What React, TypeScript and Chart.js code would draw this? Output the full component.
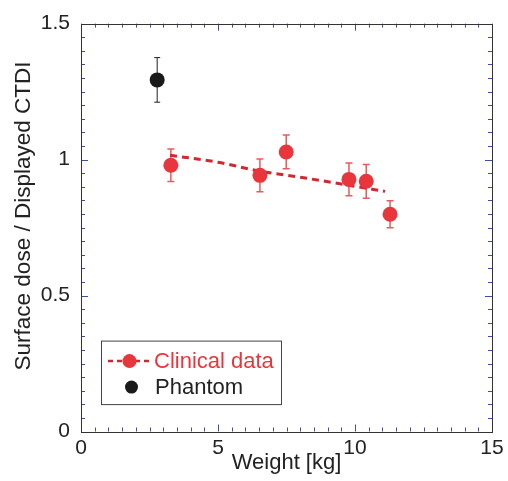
import React, { useEffect, useRef } from "react";
import { Chart, registerables } from "chart.js";

Chart.register(...registerables);

const clinicalWeight = [3.28, 6.53, 7.49, 9.78, 10.41, 11.28];
const clinicalRatio = [0.979, 0.942, 1.028, 0.927, 0.920, 0.799];
const clinicalErr = [0.06, 0.06, 0.062, 0.06, 0.062, 0.05];

const phantomWeight = [2.78];
const phantomRatio = [1.293];
const phantomErr = [0.082];

const fitWeight = [3.25, 5.0, 6.5, 8.0, 9.8, 11.1];
const fitRatio = [1.016, 0.99, 0.958, 0.935, 0.905, 0.883];

const xTicks = [0, 5, 10, 15];
const yTicks = [0, 0.5, 1, 1.5];

const FONT = "'Liberation Sans', Arial, sans-serif";
const RED = "#e8363c";
const DARK_RED = "#d3282f";
const TICK_BLUE = "#3b4fa3";
const TEXT = "#222222";

const pts = (xs: number[], ys: number[]) => xs.map((x, i) => ({ x, y: ys[i] }));

const errorBarPlugin = {
  id: "errorBars",
  beforeDatasetsDraw(chart: any) {
    const { ctx, scales } = chart;
    const xs = scales.x, ys = scales.y;
    const draw = (wx: number[], wy: number[], we: number[], color: string, cap: number, lw: number) => {
      ctx.save();
      ctx.strokeStyle = color;
      ctx.lineWidth = lw;
      wx.forEach((w, i) => {
        const px = xs.getPixelForValue(w);
        const top = ys.getPixelForValue(wy[i] + we[i]);
        const bot = ys.getPixelForValue(wy[i] - we[i]);
        ctx.beginPath();
        ctx.moveTo(px, top);
        ctx.lineTo(px, bot);
        ctx.moveTo(px - cap, top);
        ctx.lineTo(px + cap, top);
        ctx.moveTo(px - cap, bot);
        ctx.lineTo(px + cap, bot);
        ctx.stroke();
      });
      ctx.restore();
    };
    draw(clinicalWeight, clinicalRatio, clinicalErr, "rgba(232,60,66,0.85)", 3.5, 1.5);
    draw(phantomWeight, phantomRatio, phantomErr, "#222", 3, 1);
  },
};

const frameTicksPlugin = {
  id: "frameTicks",
  afterDraw(chart: any) {
    const { ctx, chartArea, scales } = chart;
    const { left, right, top, bottom } = chartArea;
    ctx.save();
    ctx.strokeStyle = TICK_BLUE;
    ctx.lineWidth = 1;
    ctx.beginPath();
    for (let i = 0; i <= 30; i++) {
      const v = i * 0.5;
      const px = Math.round(scales.x.getPixelForValue(v)) + 0.5;
      const len = i % 10 === 0 ? 7 : 4;
      ctx.moveTo(px, bottom);
      ctx.lineTo(px, bottom - len);
      ctx.moveTo(px, top);
      ctx.lineTo(px, top + len);
    }
    for (let i = 0; i <= 30; i++) {
      const v = i * 0.05;
      const py = Math.round(scales.y.getPixelForValue(v)) + 0.5;
      const len = i % 10 === 0 ? 7 : 4;
      ctx.moveTo(left, py);
      ctx.lineTo(left + len, py);
      ctx.moveTo(right, py);
      ctx.lineTo(right - len, py);
    }
    ctx.stroke();
    ctx.strokeStyle = "#333";
    ctx.lineWidth = 1;
    ctx.strokeRect(Math.round(left) + 0.5, Math.round(top) + 0.5, Math.round(right - left), Math.round(bottom - top));

    // y axis title
    ctx.fillStyle = TEXT;
    ctx.font = `22.5px ${FONT}`;
    ctx.textAlign = "center";
    ctx.textBaseline = "middle";
    ctx.translate(24, 216);
    ctx.rotate(-Math.PI / 2);
    ctx.fillText("Surface dose / Displayed CTDI", 0, 0);
    ctx.restore();

    // legend
    ctx.save();
    const lx = left + 20.5;
    const ly = top + 317.5;
    ctx.strokeStyle = "#444";
    ctx.lineWidth = 1;
    ctx.strokeRect(lx, ly, 180, 63.5);
    const r1 = ly + 20;
    ctx.strokeStyle = DARK_RED;
    ctx.lineWidth = 2.5;
    ctx.setLineDash([5, 4]);
    ctx.beginPath();
    ctx.moveTo(lx + 6.5, r1);
    ctx.lineTo(lx + 50, r1);
    ctx.stroke();
    ctx.setLineDash([]);
    ctx.fillStyle = RED;
    ctx.beginPath();
    ctx.arc(lx + 28, r1, 7, 0, Math.PI * 2);
    ctx.fill();
    ctx.font = `22px ${FONT}`;
    ctx.textAlign = "left";
    ctx.textBaseline = "middle";
    ctx.fillText("Clinical data", lx + 52.5, r1 + 1);
    const r2 = ly + 46;
    ctx.fillStyle = "#1a1a1a";
    ctx.beginPath();
    ctx.arc(lx + 30, r2, 6.5, 0, Math.PI * 2);
    ctx.fill();
    ctx.fillStyle = TEXT;
    ctx.fillText("Phantom", lx + 53.5, r2 + 1);
    ctx.restore();
  },
};

export default function App() {
  const ref = useRef<HTMLCanvasElement>(null);
  useEffect(() => {
    if (!ref.current) return;
    const chart = new Chart(ref.current, {
      type: "scatter",
      data: {
        datasets: [
          {
            label: "Clinical data",
            data: pts(clinicalWeight, clinicalRatio),
            backgroundColor: RED,
            borderColor: RED,
            pointRadius: 7.5,
            pointBorderWidth: 0,
            showLine: false,
          },
          {
            label: "Phantom",
            data: pts(phantomWeight, phantomRatio),
            backgroundColor: "#1a1a1a",
            borderColor: "#1a1a1a",
            pointRadius: 7.5,
            pointBorderWidth: 0,
            showLine: false,
          },
          {
            label: "Fit",
            data: pts(fitWeight, fitRatio),
            showLine: true,
            borderColor: DARK_RED,
            borderWidth: 3,
            borderDash: [7, 5],
            pointRadius: 0,
            tension: 0.4,
            cubicInterpolationMode: "monotone",
          } as any,
        ],
      },
      options: {
        animation: false,
        responsive: true,
        maintainAspectRatio: false,
        layout: { padding: { top: 23, right: 16, left: 0, bottom: 0 } },
        plugins: { legend: { display: false }, tooltip: { enabled: false } },
        scales: {
          x: {
            type: "linear",
            min: 0,
            max: 15,
            afterBuildTicks: (s: any) => {
              s.ticks = xTicks.map((v) => ({ value: v }));
            },
            afterFit: (s: any) => {
              s.height = 49.5;
            },
            grid: { display: false, drawTicks: false },
            border: { display: false },
            ticks: {
              padding: 4,
              color: TEXT,
              font: { family: FONT, size: 21 },
              callback: (v: any) => String(v),
              maxRotation: 0,
            },
            title: {
              display: true,
              text: "Weight [kg]",
              color: TEXT,
              font: { family: FONT, size: 22 },
              padding: { top: 0, bottom: 5 },
            },
          },
          y: {
            type: "linear",
            min: 0,
            max: 1.5,
            afterBuildTicks: (s: any) => {
              s.ticks = yTicks.map((v) => ({ value: v }));
            },
            afterFit: (s: any) => {
              s.width = 81;
            },
            grid: { display: false, drawTicks: false },
            border: { display: false },
            ticks: {
              padding: 11,
              color: TEXT,
              font: { family: FONT, size: 21 },
              callback: (v: any) => String(v),
            },
          },
        },
      },
      plugins: [errorBarPlugin, frameTicksPlugin],
    });
    return () => chart.destroy();
  }, []);
  return (
    <div style={{ position: "absolute", left: 0, top: 0, width: 508, height: 481, background: "#fff" }}>
      <canvas ref={ref} />
    </div>
  );
}
